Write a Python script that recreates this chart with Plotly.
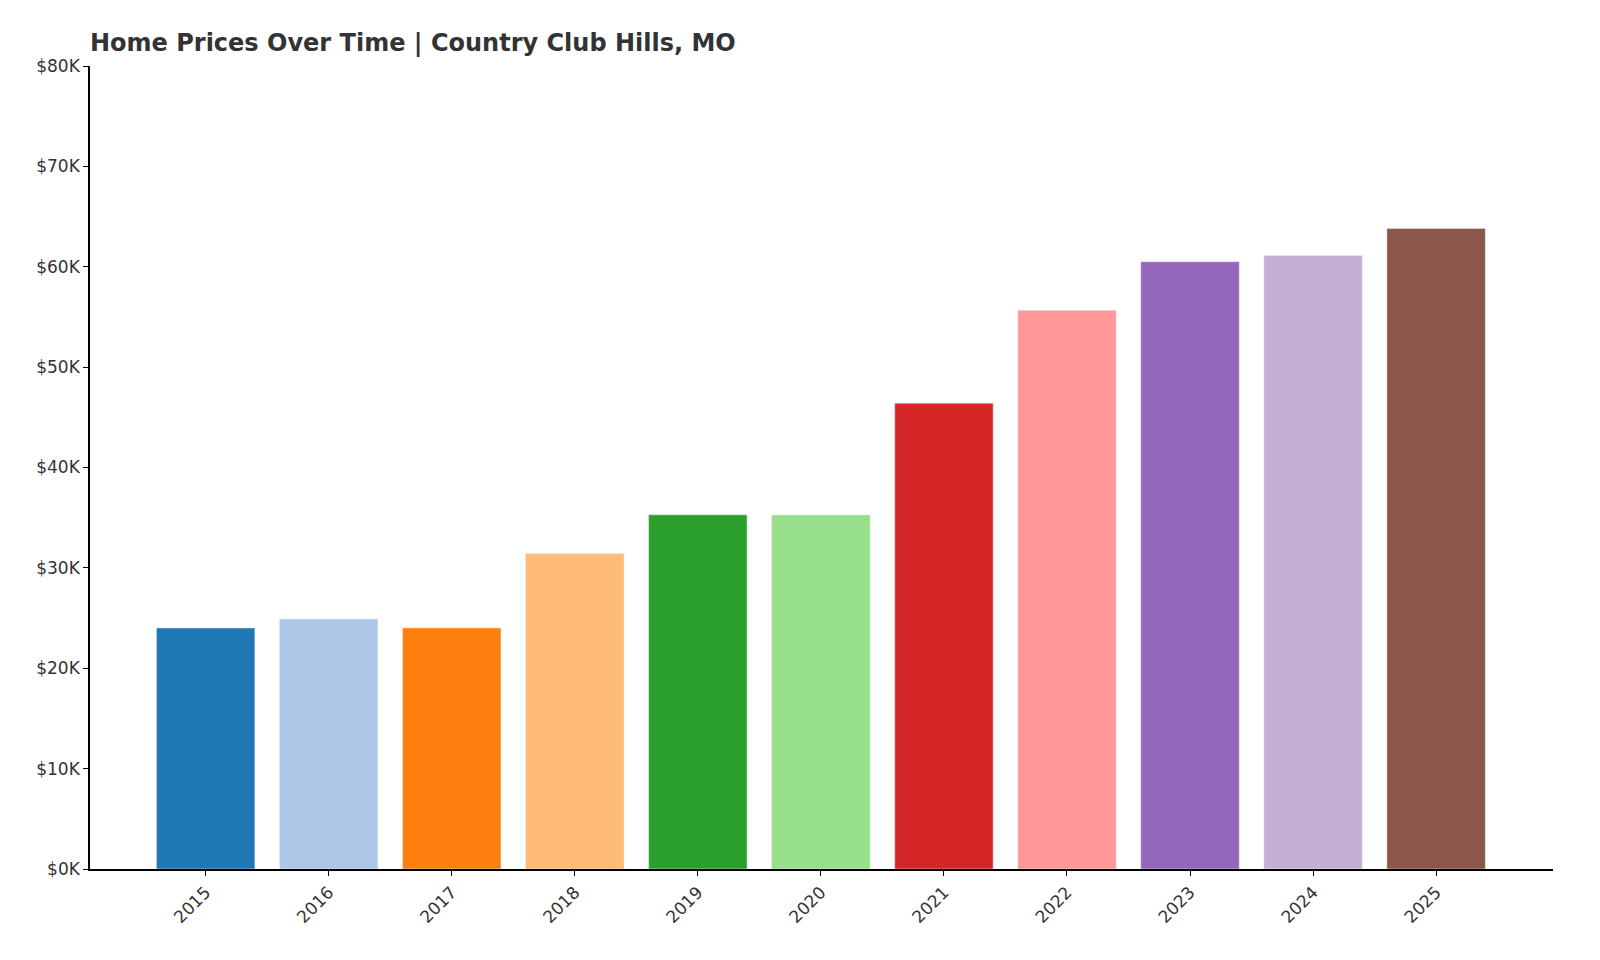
import plotly.graph_objects as go

years = ["2015", "2016", "2017", "2018", "2019", "2020", "2021", "2022", "2023", "2024", "2025"]
prices = [24015, 24902, 24018, 31426, 35287, 35277, 46403, 55660, 60493, 61127, 63812]
changes = ["", "+3.69%", "-3.55%", "+30.84%", "+12.29%", "-0.03%", "+31.54%", "+19.95%", "+8.68%", "+1.05%", "+4.39%"]
colors = ["#1f77b4", "#aec7e8", "#ff7f0e", "#ffbb78", "#2ca02c", "#98df8a",
          "#d62728", "#ff9896", "#9467bd", "#c5b0d5", "#8c564b"]
tick_vals = [0, 10000, 20000, 30000, 40000, 50000, 60000, 70000, 80000]
tick_text = ["$0K", "$10K", "$20K", "$30K", "$40K", "$50K", "$60K", "$70K", "$80K"]

fig = go.Figure()
fig.add_trace(go.Bar(x=years, y=prices, marker_color=colors, width=0.8, showlegend=False))

for yr, p, c in zip(years, prices, changes):
    txt = f"${p:,}" + (f"<br>{c}" if c else "")
    fig.add_annotation(x=yr, y=p, text=txt, textangle=-90, showarrow=False,
                       xanchor="center", yanchor="bottom", align="left", yshift=6,
                       font=dict(size=15, color="#333333"))

fig.update_layout(
    width=1600, height=960,
    paper_bgcolor="white", plot_bgcolor="white",
    margin=dict(l=82, r=55, t=58, b=99),
    font=dict(family="DejaVu Sans", color="#333333"),
    title=dict(text="<b>Home Prices Over Time | Country Club Hills, MO</b>",
               x=82 / 1600, xanchor="left", y=1 - 35 / 960, yanchor="middle",
               font=dict(size=24, color="#333333")),
)
fig.update_xaxes(range=[-0.94, 10.95], showline=True, linecolor="black", linewidth=1.5,
                 ticks="outside", tickcolor="black", tickangle=-45, tickfont=dict(size=17))
fig.update_yaxes(range=[0, 80000], tickvals=tick_vals, ticktext=tick_text, showgrid=False,
                 showline=True, linecolor="black", linewidth=1.5, ticks="outside",
                 tickcolor="black", tickfont=dict(size=17), zeroline=False)

fig.write_html("out.html")
